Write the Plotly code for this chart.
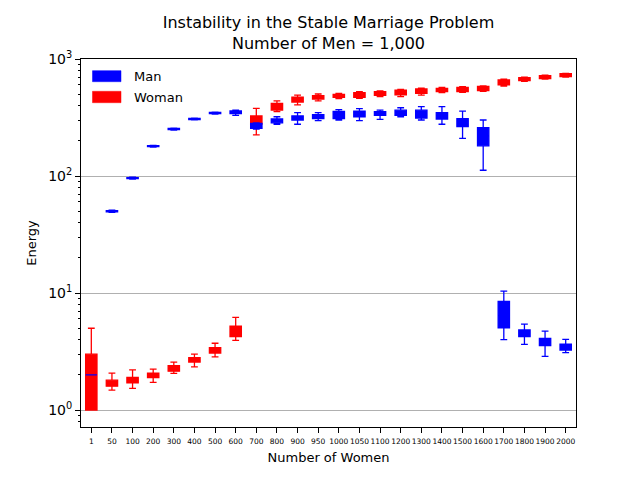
import plotly.graph_objects as go

categories = ["1", "50", "100", "200", "300", "400", "500", "600", "700", "800", "900", "950",
              "1000", "1050", "1100", "1200", "1300", "1400", "1500", "1600", "1700", "1800",
              "1900", "2000"]

man_low = [2, 49, 94, 177, 247, 302, 338, 330, 252, 277, 277, 297, 301, 297, 305, 321, 301, 277,
           210, 112, 4.0, 3.64, 2.88, 3.09]
man_q1 = [2, 49.4, 95, 178, 249, 304, 341, 342, 256, 285, 301, 309, 309, 321, 330, 330, 313, 307,
          264, 181, 5.05, 4.24, 3.55, 3.26]
man_med = [2, 50, 96, 180, 252, 307, 345, 352, 268, 295, 313, 321, 335, 340, 342, 348, 340, 328,
           285, 220, 6.4, 4.5, 3.8, 3.45]
man_q3 = [2, 50.6, 97, 182, 255, 310, 349, 360, 282, 307, 326, 334, 357, 359, 355, 365, 365, 348,
          309, 259, 8.5, 4.83, 4.10, 3.66]
man_high = [2, 51, 98, 183, 257, 312, 352, 365, 284, 321, 348, 348, 369, 376, 365, 383, 391, 391,
            359, 301, 10.4, 5.43, 4.73, 4.02]

woman_low = [1, 1.48, 1.53, 1.72, 2.06, 2.34, 2.85, 3.94, 225, 355, 405, 438, 458, 462, 476, 476,
             492, 515, 519, 530, 588, 645, 672, 700]
woman_q1 = [1, 1.60, 1.71, 1.89, 2.15, 2.57, 3.07, 4.24, 278, 366, 429, 455, 471, 471, 490, 495,
            509, 526, 526, 536, 600, 653, 679, 706]
woman_med = [2, 1.70, 1.80, 1.98, 2.27, 2.68, 3.24, 4.7, 300, 392, 450, 470, 485, 493, 508, 519,
             531, 544, 549, 560, 630, 672, 700, 727]
woman_q3 = [3, 1.80, 1.90, 2.07, 2.39, 2.80, 3.41, 5.22, 326, 418, 471, 486, 499, 515, 526, 543,
            554, 562, 572, 584, 662, 692, 720, 749]
woman_high = [5, 2.07, 2.20, 2.24, 2.57, 3.01, 3.72, 6.2, 379, 438, 492, 502, 509, 525, 534, 551,
              563, 572, 580, 590, 672, 700, 728, 755]

series_names = ["Man", "Woman"]
series_colors = ["#0000ff", "#ff0000"]

y_tickvals = [1, 10, 100, 1000]
y_ticktext = ["10<sup>0</sup>", "10<sup>1</sup>", "10<sup>2</sup>", "10<sup>3</sup>"]
minor_vals = [m * 10 ** e for e in range(-1, 3) for m in range(2, 10)]

fig = go.Figure()
fig.add_trace(go.Box(
    name="Woman", x=categories, q1=woman_q1, median=woman_med, q3=woman_q3,
    lowerfence=woman_low, upperfence=woman_high,
    fillcolor=series_colors[1], line=dict(color=series_colors[1], width=1.3),
    width=0.55, whiskerwidth=0.6, boxpoints=False, showlegend=False,
))
fig.add_trace(go.Box(
    name="Man", x=categories, q1=man_q1, median=man_med, q3=man_q3,
    lowerfence=man_low, upperfence=man_high,
    fillcolor=series_colors[0], line=dict(color=series_colors[0], width=1.3),
    width=0.55, whiskerwidth=0.6, boxpoints=False, showlegend=False,
))

# legend drawn as patches + text (matplotlib-style wide patches)
plot_l, plot_w, plot_b, plot_h = 81, 495, 427, 368
legend_rows = [(70.7, 81.7, 76.2), (91.3, 102.7, 97.0)]
for (top, bot, mid), name, col in zip(legend_rows, series_names, series_colors):
    fig.add_shape(type="rect", xref="paper", yref="paper",
                  x0=(92.5 - plot_l) / plot_w, x1=(121 - plot_l) / plot_w,
                  y0=(plot_b - bot) / plot_h, y1=(plot_b - top) / plot_h,
                  fillcolor=col, line=dict(color=col, width=0.5))
    fig.add_annotation(text=name, xref="paper", yref="paper",
                       x=(132 - plot_l) / plot_w, y=(plot_b - mid) / plot_h,
                       xanchor="left", yanchor="middle", showarrow=False,
                       font=dict(size=13, color="black"))

fig.update_layout(
    width=640, height=480,
    margin=dict(l=81, r=64, t=59, b=53),
    paper_bgcolor="white", plot_bgcolor="white",
    font=dict(family="DejaVu Sans", color="black", size=13),
    title=dict(text="Instability in the Stable Marriage Problem<br>Number of Men = 1,000",
               x=0.5, xref="paper", xanchor="center", y=1 - 28 / 480, yanchor="top",
               yref="container", font=dict(size=16)),
    boxmode="overlay",
    showlegend=False,
    xaxis=dict(type="category", categoryorder="array", categoryarray=categories,
               title=dict(text="Number of Women", font=dict(size=13), standoff=7),
               showline=True, linecolor="black", linewidth=1, mirror=True,
               ticks="outside", ticklen=5, tickcolor="black", tickfont=dict(size=7.5),
               tickangle=0, ticklabelstandoff=2,
               showgrid=False, zeroline=False, range=[-0.5, 23.5]),
    yaxis=dict(type="log", range=[-0.145, 3.0],
               title=dict(text="Energy", font=dict(size=13), standoff=8),
               showline=True, linecolor="black", linewidth=1, mirror=True,
               ticks="outside", ticklen=5, tickcolor="black",
               tickmode="array", tickvals=y_tickvals, ticktext=y_ticktext,
               tickfont=dict(size=14),
               showgrid=True, gridcolor="#b0b0b0", gridwidth=1, zeroline=False,
               minor=dict(tickmode="array", tickvals=minor_vals, ticks="outside",
                          ticklen=2.5, tickcolor="black", showgrid=False)),
)

fig.write_html("out.html")
